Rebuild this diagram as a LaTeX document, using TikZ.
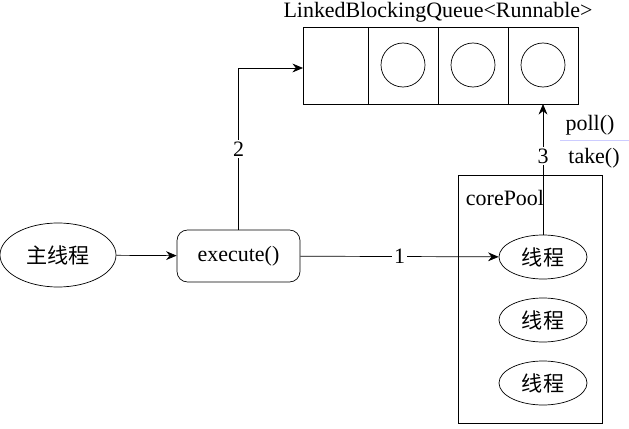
\documentclass[tikz,border=0pt]{standalone}
\usepackage{fontspec}
\setmainfont{Liberation Serif}
\newfontfamily\cjk{Noto Sans CJK SC}
\usetikzlibrary{positioning,shapes.geometric,arrows.meta}
\tikzstyle{line} = [draw, -{Stealth[length=6pt,width=5pt]}, thin]
\begin{document}
\begin{tikzpicture}[x=0.02cm,y=-0.02cm,every node/.style={font=\rmfamily\fontsize{12.5}{14}\selectfont},
	thread/.style={draw, ellipse, minimum width=88*0.02cm, minimum height=44*0.02cm, font=\fontsize{12}{14}\selectfont\cjk}]
	\useasboundingbox (0,0) rectangle (629,429);
	% Queue:
	\draw (303,27) rectangle (578,104);
	\foreach \xq in {368,438,508} \draw (\xq,27) -- (\xq,104);
	\foreach \xq in {403,473,543} \draw (\xq,65) circle (22*0.02cm);
	\node (qlabel) at (438,12) {LinkedBlockingQueue<Runnable>};
	\coordinate (qin) at (303,68);
	\coordinate (qout) at (543,104);
	% Main thread and execute:
	\node[draw, ellipse, minimum width=116*0.02cm, minimum height=64*0.02cm, font=\fontsize{12}{14}\selectfont\cjk] (main) at (58,255) {主线程};
	\node[draw, rounded corners=6pt, minimum width=123*0.02cm, minimum height=52*0.02cm] (exec) at (238.5,256) {execute()};
	% Core pool:
	\draw (458,175) rectangle (602,423);
	\node (pool) at (505,198) {corePool};
	\node[thread] (t1) at (543,257) {线程};
	\node[thread] (t2) at (543,320) {线程};
	\node[thread] (t3) at (543,383) {线程};
	% Method labels:
	\node (poll) at (590,125) {poll()};
	\node (take) at (594,158) {take()};
	\draw[blue!20] (560,140) -- (629,140);
	% Flows:
	\path[line] (main) -- (exec);
	\path[line] (exec) -- node[fill=white, inner sep=1pt] {1} (t1);
	\path[line] (exec.north) |- node[pos=0.25, fill=white, inner sep=1pt] {2} (qin);
	\path[line] (t1.north) -- node[pos=0.6, fill=white, inner sep=1pt] {3} (qout);
\end{tikzpicture}
\end{document}
